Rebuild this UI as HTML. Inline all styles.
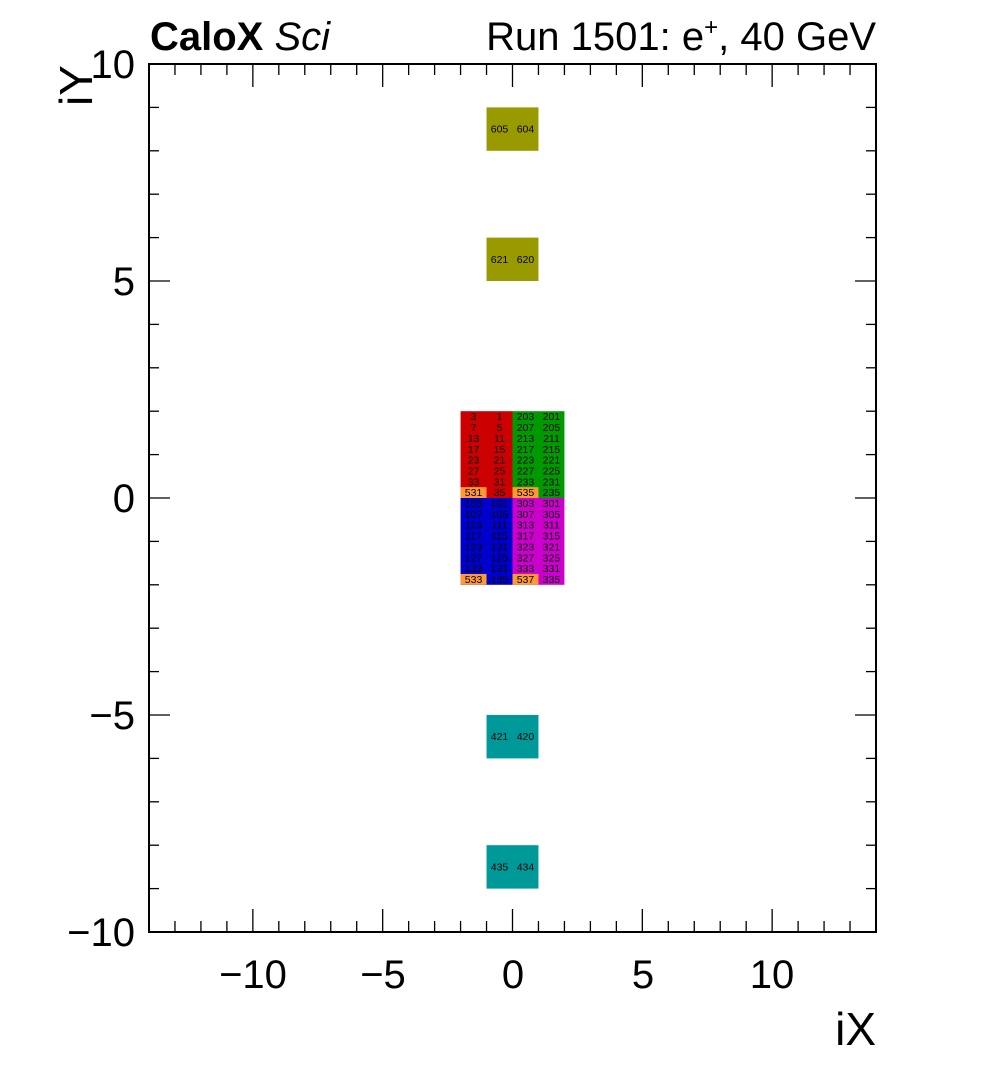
<!DOCTYPE html>
<html><head><meta charset="utf-8"><style>
html,body{margin:0;padding:0;background:#fff;}
svg{display:block;font-family:"Liberation Sans",sans-serif;}
</style></head><body>
<svg id="s" width="996" height="1072" xmlns="http://www.w3.org/2000/svg">
<rect width="996" height="1072" fill="#fff"/>
<g id="cells"></g>
<g id="ticks" stroke="#000" stroke-width="1.3"></g>
<rect x="149" y="64" width="727" height="868" fill="none" stroke="#000" stroke-width="2"/>
<g font-size="40" text-anchor="middle" fill="#000">
<text x="253" y="988">−10</text>
<text x="383" y="988">−5</text>
<text x="513" y="988">0</text>
<text x="643" y="988">5</text>
<text x="772" y="988">10</text>
</g>
<g font-size="40" text-anchor="end" fill="#000">
<text x="135" y="78">10</text>
<text x="135" y="295">5</text>
<text x="135" y="512">0</text>
<text x="135" y="729">−5</text>
<text x="135" y="946">−10</text>
</g>
<text x="876" y="1045" font-size="46" text-anchor="end">iX</text>
<text transform="translate(92,106) rotate(-90)" font-size="46" text-anchor="start">iY</text>
<text x="150" y="50" font-size="40"><tspan font-weight="bold">CaloX</tspan> <tspan font-style="italic">Sci</tspan></text>
<text x="876" y="50" font-size="40" text-anchor="end">Run 1501: e<tspan font-size="24" dy="-15">+</tspan><tspan dy="15">, 40 GeV</tspan></text>
</svg>
<script>
var NS="http://www.w3.org/2000/svg";
var x0=149,x1=876,y0=64,y1=932;
function X(v){return x0+(v+14)*(x1-x0)/28;}
function Y(v){return y0+(10-v)*(y1-y0)/20;}
var cg=document.getElementById("cells"),tg=document.getElementById("ticks");
function rect(xa,xb,ya,yb,c){var r=document.createElementNS(NS,"rect");r.setAttribute("x",X(xa));r.setAttribute("y",Y(yb));r.setAttribute("width",X(xb)-X(xa));r.setAttribute("height",Y(ya)-Y(yb));r.setAttribute("fill",c);cg.appendChild(r);}
function txt(x,y,s){var t=document.createElementNS(NS,"text");t.setAttribute("x",x);t.setAttribute("y",y);t.setAttribute("font-size","10.5");t.setAttribute("text-anchor","middle");t.textContent=s;cg.appendChild(t);}
function line(a,b,c,d){var l=document.createElementNS(NS,"line");l.setAttribute("x1",a);l.setAttribute("y1",b);l.setAttribute("x2",c);l.setAttribute("y2",d);tg.appendChild(l);}
var R="#cc0000",G="#009900",B="#0000cc",M="#cc00cc",O="#ff9933",OL="#999900",T="#009999";
rect(-2,0,0,2,R);rect(0,2,0,2,G);rect(-2,0,-2,0,B);rect(0,2,-2,0,M);
rect(-2,-1,0,0.25,O);rect(0,1,0,0.25,O);rect(-2,-1,-2,-1.75,O);rect(0,1,-2,-1.75,O);
rect(-1,1,8,9,OL);rect(-1,1,5,6,OL);rect(-1,1,-6,-5,T);rect(-1,1,-9,-8,T);
var up=[["3","1","203","201"],["7","5","207","205"],["13","11","213","211"],["17","15","217","215"],["23","21","223","221"],["27","25","227","225"],["33","31","233","231"],["531","35","535","235"]];
var dn=[["103","101","303","301"],["107","105","307","305"],["113","111","313","311"],["117","115","317","315"],["123","121","323","321"],["127","125","327","325"],["133","131","333","331"],["533","135","537","335"]];
for(var i=0;i<8;i++)for(var j=0;j<4;j++){var cx=(X(-2+j)+X(-1+j))/2;
txt(cx,Y(2-i*0.25)+9,up[i][j]);txt(cx,Y(-i*0.25)+9,dn[i][j]);}
txt(X(-0.5),Y(8.5)+3.5,"605");txt(X(0.5),Y(8.5)+3.5,"604");
txt(X(-0.5),Y(5.5)+3.5,"621");txt(X(0.5),Y(5.5)+3.5,"620");
txt(X(-0.5),Y(-5.5)+3.5,"421");txt(X(0.5),Y(-5.5)+3.5,"420");
txt(X(-0.5),Y(-8.5)+3.5,"435");txt(X(0.5),Y(-8.5)+3.5,"434");
for(var v=-13;v<=13;v++){var L=(v%5==0)?23:11;var x=X(v);line(x,y1,x,y1-L);line(x,y0,x,y0+L);}
for(var v=-9;v<=9;v++){var L=(v%5==0)?21:10;var y=Y(v);line(x0,y,x0+L,y);line(x1,y,x1-L,y);}
</script>
</body></html>
